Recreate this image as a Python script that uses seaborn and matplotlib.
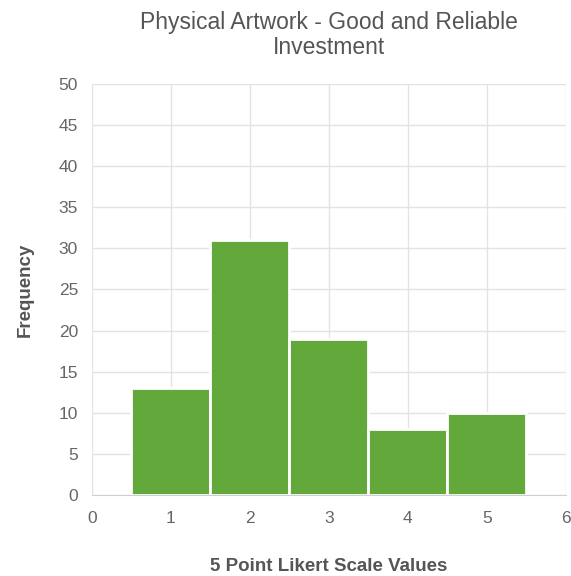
import matplotlib
matplotlib.use("Agg")
import matplotlib.pyplot as plt
import seaborn as sns
import pandas as pd

# Data
likert_values = [1, 2, 3, 4, 5]
frequency = [13, 31, 19, 8, 10]

df = pd.DataFrame({'likert': likert_values, 'freq': frequency})

sns.set_style("whitegrid")
plt.rcParams['font.family'] = ['Liberation Sans', 'DejaVu Sans']

fig = plt.figure(figsize=(5.71, 5.76), dpi=100)
ax = fig.add_axes([0.161, 0.141, 0.83, 0.713])

sns.histplot(data=df, x='likert', weights='freq', discrete=True, shrink=1,
             color='#62a83a', alpha=1, edgecolor='white', linewidth=2, ax=ax)

ax.set_xlim(0, 6)
ax.set_ylim(0, 50)
ax.set_xticks(range(0, 7))
ax.set_yticks(range(0, 51, 5))
ax.grid(True, color='#e3e3e3', linewidth=1)
ax.set_axisbelow(True)
for side in ['top', 'right', 'left']:
    ax.spines[side].set_visible(False)
ax.spines['bottom'].set_color('#d0d0d0')
ax.tick_params(axis='both', length=0, labelsize=12.5, colors='#666666')
ax.tick_params(axis='x', pad=12)
ax.tick_params(axis='y', pad=10)

ax.set_title('Physical Artwork - Good and Reliable\nInvestment', fontsize=16.5,
             color='#555555', pad=22, linespacing=1.1)
ax.set_xlabel('5 Point Likert Scale Values', fontsize=13.5, fontweight='bold',
              color='#555555', labelpad=23)
ax.set_ylabel('Frequency', fontsize=13.5, fontweight='bold', color='#555555', labelpad=18)

fig.savefig('out.png', dpi=100)
